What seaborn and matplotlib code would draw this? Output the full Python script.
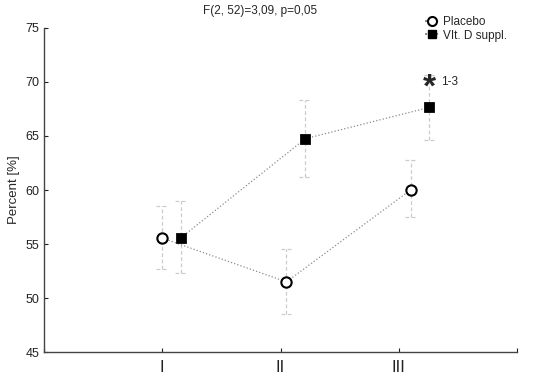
import numpy as np
import pandas as pd
import matplotlib
matplotlib.use("Agg")
import matplotlib.pyplot as plt
from matplotlib.lines import Line2D
import seaborn as sns

sns.set_style("ticks")
plt.rcParams['font.family'] = ['Liberation Sans', 'DejaVu Sans']

# data
times = ['I', 'II', 'III']
groups = ['Placebo', 'VIt. D suppl.']
placebo_x = [1.00, 2.05, 3.10]
placebo_mean = [55.55, 51.5, 60.0]
placebo_lo = [52.7, 48.5, 57.5]
placebo_hi = [58.55, 54.5, 62.8]
vitd_x = [1.16, 2.21, 3.26]
vitd_mean = [55.6, 64.75, 67.65]
vitd_lo = [52.3, 61.2, 64.6]
vitd_hi = [59.0, 68.3, 70.65]

df = pd.DataFrame({
    'x': placebo_x + vitd_x,
    'value': placebo_mean + vitd_mean,
    'lo': placebo_lo + vitd_lo,
    'hi': placebo_hi + vitd_hi,
    'group': [groups[0]] * 3 + [groups[1]] * 3,
})

fig = plt.figure(figsize=(5.5, 3.77), dpi=100)
ax = fig.add_axes([0.08, 0.066, 0.86, 0.86])

# error bars: dashed light grey whiskers and caps
for _, r in df.iterrows():
    ax.vlines(r['x'], r['lo'], r['hi'], colors='#cccccc', linestyles=(0, (3, 2)), lw=0.9, zorder=1)
    ax.hlines([r['lo'], r['hi']], r['x'] - 0.05, r['x'] + 0.05, colors='#cccccc',
              linestyles=(0, (3, 2)), lw=0.9, zorder=1)

# dotted connecting lines
sns.lineplot(data=df, x='x', y='value', units='group', estimator=None, color='#8c8c8c',
             lw=0.9, linestyle=':', sort=False, legend=False, ax=ax, zorder=2)

# markers
sns.scatterplot(data=df[df.group == groups[0]], x='x', y='value', marker='o', s=55,
                facecolor='white', edgecolor='black', linewidth=1.5, legend=False, ax=ax, zorder=3)
sns.scatterplot(data=df[df.group == groups[1]], x='x', y='value', marker='s', s=50,
                color='black', edgecolor='black', legend=False, ax=ax, zorder=3)

# significance marker
ax.text(vitd_x[2], 69.4, '*', ha='center', va='center', fontsize=24, fontweight='bold')
ax.text(vitd_x[2] + 0.1, 70.0, '1-3', ha='left', va='center', fontsize=8.5)

ax.set_xlim(0, 4)
ax.set_ylim(45, 75)
ax.set_xticks([0, 1, 2, 3, 4])
ax.set_xticklabels(['', 'I', 'II', 'III', ''], fontsize=12)
ax.set_yticks(np.arange(45, 76, 5))
ax.tick_params(axis='y', direction='in', length=3, labelsize=9, colors='#222222')
ax.tick_params(axis='x', direction='in', length=3, labelsize=12, pad=6, colors='#222222')
ax.set_xlabel('')
ax.set_ylabel('Percent [%]', fontsize=9.5)
for s in ['left', 'bottom']:
    ax.spines[s].set_color('#444444')
    ax.spines[s].set_linewidth(1.0)
sns.despine(ax=ax)

fig.text(0.473, 0.972, 'F(2, 52)=3,09, p=0,05', ha='center', va='center', fontsize=8.5)

handles = [
    Line2D([], [], color='#8c8c8c', ls=':', marker='o', mfc='white', mec='black', mew=1.5, ms=6.5),
    Line2D([], [], color='#8c8c8c', ls=':', marker='s', mfc='black', mec='black', ms=6),
]
ax.legend(handles, groups, loc='upper left', bbox_to_anchor=(0.782, 1.07), frameon=False,
          fontsize=8.5, handlelength=1.2, handletextpad=0.4, labelspacing=0.15)

fig.savefig('out.png', dpi=100)
